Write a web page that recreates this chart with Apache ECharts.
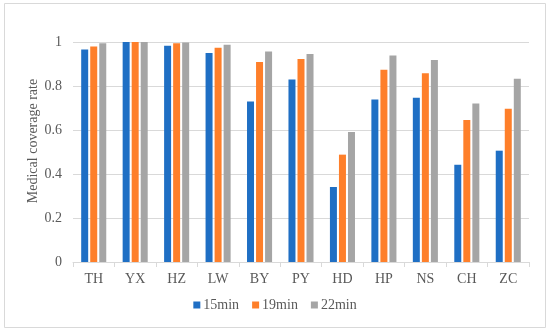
<!DOCTYPE html>
<html><head><meta charset="utf-8">
<script src="https://cdn.jsdelivr.net/npm/echarts@6/dist/echarts.min.js"></script>
<style>html,body{margin:0;padding:0;background:#fff}#c{width:550px;height:334px}</style>
</head><body><div id="c"></div>
<script>
const categories = ['TH','YX','HZ','LW','BY','PY','HD','HP','NS','CH','ZC'];
const s15 = [0.966,1.0,0.983,0.950,0.729,0.830,0.341,0.739,0.747,0.442,0.506];
const s19 = [0.980,1.0,0.994,0.974,0.909,0.923,0.488,0.874,0.858,0.645,0.697];
const s22 = [0.994,1.0,0.998,0.988,0.957,0.945,0.591,0.939,0.918,0.720,0.833];
const seriesNames = ['15min','19min','22min'];
const yTicks = [0,0.2,0.4,0.6,0.8,1];
const colors = ['#1F6FC4','#FE7F2A','#A5A5A5'];
const font = 'Liberation Serif';
const txt = '#595959';
const chart = echarts.init(document.getElementById('c'));
chart.setOption({
  animation:false,
  color: colors,
  graphic:[
    {type:'rect',shape:{x:4.5,y:3.5,width:541,height:324},style:{fill:'none',stroke:'#d9d9d9',lineWidth:1},silent:true},
    {type:'text',x:33,y:141,rotation:Math.PI/2,style:{text:'Medical coverage rate',fill:txt,font:'14px "Liberation Serif"',textAlign:'center',textVerticalAlign:'middle'}}
  ],
  legend:{
    bottom:17,left:'center',itemWidth:7,itemHeight:7,itemGap:13,
    icon:'rect',
    textStyle:{fontFamily:font,fontSize:14,color:txt,padding:[0,0,0,-2]},
    data:seriesNames
  },
  grid:{left:73,right:21,top:42,bottom:72},
  xAxis:{
    type:'category',data:categories,
    axisLine:{lineStyle:{color:'#d9d9d9'}},
    axisTick:{show:true,length:5,lineStyle:{color:'#d9d9d9'}},
    axisLabel:{fontFamily:font,fontSize:14,color:txt,margin:10}
  },
  yAxis:{
    type:'value',min:0,max:1,interval:0.2,
    axisLine:{show:false},axisTick:{show:false},
    splitLine:{lineStyle:{color:'#d9d9d9'}},
    axisLabel:{fontFamily:font,fontSize:14,color:txt,margin:11,
      formatter:v=>{const t=yTicks.find(x=>Math.abs(x-v)<1e-9);return String(t!==undefined?t:v);}}
  },
  series:[
    {name:seriesNames[0],type:'bar',data:s15,barWidth:7,barGap:'29%'},
    {name:seriesNames[1],type:'bar',data:s19,barWidth:7,barGap:'29%'},
    {name:seriesNames[2],type:'bar',data:s22,barWidth:7,barGap:'29%'}
  ]
});
</script></body></html>
